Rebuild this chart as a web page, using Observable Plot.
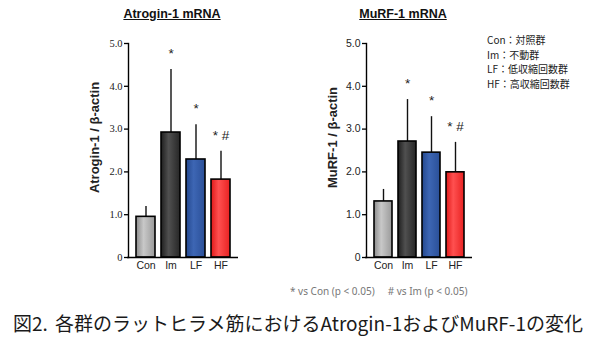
<!DOCTYPE html>
<html><head><meta charset="utf-8">
<script src="https://cdn.jsdelivr.net/npm/d3@7"></script>
<script src="https://cdn.jsdelivr.net/npm/@observablehq/plot@0.6"></script>
<style>
body{margin:0;background:#fff;}
#root{position:relative;width:600px;height:348px;overflow:hidden;font-family:"Liberation Sans",Arial,sans-serif;background:#fff;}
.abs{position:absolute;white-space:pre;}
.title{font-family:"Liberation Sans",Arial,sans-serif;font-weight:bold;font-size:12.5px;text-decoration:underline;color:#111;transform:translate(-50%,-50%);}
.legend{font-family:"Noto Sans CJK JP",sans-serif;font-size:10px;line-height:14.6px;color:#222;}
.foot{font-family:"Noto Sans","DejaVu Sans",sans-serif;font-size:10px;color:#777;}
.caption{font-family:"Noto Sans CJK JP",sans-serif;font-size:19px;color:#1a1a1a;}
svg{position:absolute;overflow:visible;}
</style></head>
<body><div id="root"></div>
<script>
const categories = ["Con", "Im", "LF", "HF"];
const atroginMean = [0.95, 2.92, 2.29, 1.82];
const atroginSD = [0.24, 1.47, 0.81, 0.66];
const murfMean = [1.31, 2.71, 2.45, 1.99];
const murfSD = [0.28, 0.98, 0.84, 0.70];
const significance = ["", "*", "*", "* #"];
const yTicks = [0, 1, 2, 3, 4, 5];
const legendLines = ["Con：対照群", "Im：不動群", "LF：低収縮回数群", "HF：高収縮回数群"];
const titles = ["Atrogin-1 mRNA", "MuRF-1 mRNA"];
const yLabels = ["Atrogin-1 / β-actin", "MuRF-1 / β-actin"];
const footnote = "* vs Con (p < 0.05)     # vs Im (p < 0.05)";
const caption = "図2. 各群のラットヒラメ筋におけるAtrogin-1およびMuRF-1の変化";

const gradients = {
  Con: ["#8c8c8c", "#c8c8c8", "#9a9a9a"],
  Im: ["#1e1e1e", "#505050", "#262626"],
  LF: ["#24488e", "#3d66b4", "#2a4f98"],
  HF: ["#e01818", "#ff5050", "#e82222"]
};

const root = document.getElementById("root");

function chart(means, sds, yLabel, prefix, opts) {
  const data = categories.map((c, i) => ({cat: c, mean: means[i], top: means[i] + sds[i], sig: significance[i]}));
  const svg = Plot.plot({
    width: opts.width, height: 250,
    marginLeft: 42, marginRight: opts.marginRight, marginTop: 18, marginBottom: 18,
    style: {background: "transparent", overflow: "visible"},
    x: {domain: categories, paddingInner: 0.24, paddingOuter: opts.po, axis: null},
    y: {domain: [0, 5], axis: null},
    color: {type: "identity"},
    marks: [
      Plot.axisY({ticks: yTicks, tickSize: 4, tickPadding: 2, tickFormat: d => d === 0 ? "0" : d.toFixed(1),
        fontSize: 10.5, fontFamily: opts.tickFont, stroke: "#000", strokeWidth: 1.3, fill: "#222"}),
      Plot.axisX({tickSize: 0, tickPadding: 4, fontSize: 10.5, fontFamily: "Liberation Sans, Arial, sans-serif", fill: "#222", label: null}),
      Plot.ruleX(data, {x: "cat", y1: "mean", y2: "top", stroke: "#111", strokeWidth: 1.4}),
      Plot.barY(data, {x: "cat", y: "mean", fill: d => `url(#${prefix}-${d.cat})`, stroke: "#000", strokeWidth: 1.6}),
      Plot.frame({anchor: "left", stroke: "#000", strokeWidth: 1.4}),
      Plot.ruleY([0], {stroke: "#000", strokeWidth: 1.6, insetLeft: -1}),
      Plot.text(data, {x: "cat", y: "top", text: "sig", dy: -16, fontSize: 13.5, fontFamily: "Liberation Sans, Arial, sans-serif", fill: "#222"}),
      Plot.text([yLabel], {frameAnchor: "left", rotate: -90, dx: opts.labelDx, dy: -13, textAnchor: "middle", fontSize: 13, fontWeight: "bold", fill: "#222", fontFamily: "Liberation Sans, Arial, sans-serif"})
    ]
  });
  const defs = d3.select(svg).insert("defs", ":first-child");
  for (const c of categories) {
    const g = defs.append("linearGradient").attr("id", `${prefix}-${c}`).attr("x1", "0").attr("x2", "1").attr("y1", "0").attr("y2", "0");
    const [a, b, e] = gradients[c];
    g.append("stop").attr("offset", "0%").attr("stop-color", a);
    g.append("stop").attr("offset", "40%").attr("stop-color", b);
    g.append("stop").attr("offset", "100%").attr("stop-color", e);
  }
  svg.style.left = opts.left + "px";
  svg.style.top = "25px";
  root.appendChild(svg);
}

chart(atroginMean, atroginSD, yLabels[0], "a", {left: 86, width: 170, marginRight: 18, po: 0.32, tickFont: "Liberation Serif, Times New Roman, serif", labelDx: -34});
chart(murfMean, murfSD, yLabels[1], "m", {left: 324, width: 170, marginRight: 22, po: 0.26, tickFont: "Liberation Sans, Arial, sans-serif", labelDx: -34});

function addDiv(cls, text, left, top) {
  const d = document.createElement("div");
  d.className = "abs " + cls;
  d.textContent = text;
  d.style.left = left + "px";
  d.style.top = top + "px";
  root.appendChild(d);
  return d;
}
addDiv("title", titles[0], 172, 14);
addDiv("title", titles[1], 403, 14);
addDiv("legend", legendLines.join("\n"), 487, 33);
addDiv("foot", footnote, 290, 284);
const cap = addDiv("caption", caption, 13, 309);
cap.style.wordSpacing = "3px";
</script>
</body></html>
